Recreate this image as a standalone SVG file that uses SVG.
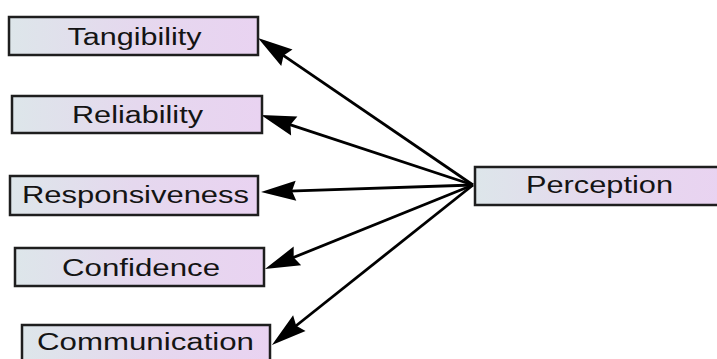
<svg xmlns="http://www.w3.org/2000/svg" width="717" height="359" viewBox="0 0 717 359">
<defs>
<linearGradient id="g" x1="0" y1="0" x2="1" y2="0">
<stop offset="0" stop-color="#dde6ea"/>
<stop offset="0.5" stop-color="#e5d8ee"/>
<stop offset="1" stop-color="#e9d3f1"/>
</linearGradient>
<marker id="ah" markerUnits="userSpaceOnUse" markerWidth="60" markerHeight="30" viewBox="-20 -15 60 30" refX="0" refY="0" orient="auto">
<path d="M20,0 L-15,-10 L-11,0 L-15,10 Z" fill="#000"/>
</marker>
<style>
.box rect{fill:url(#g);stroke:#1e1e1e;stroke-width:2.5}
.box text{font-family:"Liberation Sans",Arial,sans-serif;font-size:23.5px;fill:#141414;text-anchor:middle}
.conn line{stroke:#000;stroke-width:2.8;marker-end:url(#ah)}
</style>
</defs>
<rect width="717" height="359" fill="#fff"/>
<g id="connectors" class="conn">
<line x1="473" y1="185" x2="274.5" y2="49.3"/>
<line x1="473" y1="185" x2="280" y2="121.3"/>
<line x1="473" y1="185" x2="281" y2="191.3"/>
<line x1="473" y1="185" x2="283.5" y2="261.5"/>
<line x1="473" y1="185" x2="287.6" y2="332.5"/>
</g>
<g id="tangibility" class="box">
<rect x="9" y="17" width="249" height="38"/>
<text x="134.5" y="45" textLength="134" lengthAdjust="spacingAndGlyphs">Tangibility</text>
</g>
<g id="reliability" class="box">
<rect x="12" y="96" width="250" height="37"/>
<text x="137.5" y="123" textLength="131" lengthAdjust="spacingAndGlyphs">Reliability</text>
</g>
<g id="responsiveness" class="box">
<rect x="10" y="176" width="248" height="39"/>
<text x="135.5" y="203" textLength="227" lengthAdjust="spacingAndGlyphs">Responsiveness</text>
</g>
<g id="confidence" class="box">
<rect x="15" y="248" width="249" height="38"/>
<text x="141" y="276" textLength="158" lengthAdjust="spacingAndGlyphs">Confidence</text>
</g>
<g id="communication" class="box">
<rect x="22" y="325" width="248" height="38"/>
<text x="145.5" y="350" textLength="217" lengthAdjust="spacingAndGlyphs">Communication</text>
</g>
<g id="perception" class="box">
<rect x="475" y="167" width="249" height="38"/>
<text x="599.5" y="193" textLength="147" lengthAdjust="spacingAndGlyphs">Perception</text>
</g>
</svg>
